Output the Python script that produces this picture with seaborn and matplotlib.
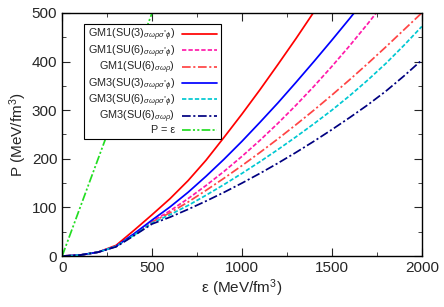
import matplotlib
matplotlib.use("Agg")
import matplotlib.pyplot as plt
import seaborn as sns
import pandas as pd
from matplotlib.ticker import MultipleLocator

sns.set_style("ticks")
plt.rcParams['font.family'] = ['Liberation Sans', 'DejaVu Sans']
plt.rcParams['mathtext.fontset'] = 'custom'
plt.rcParams['mathtext.rm'] = 'Liberation Sans'
plt.rcParams['mathtext.it'] = 'Liberation Sans:italic'

labels = [
    r"GM1(SU(3)$_{\sigma\omega\rho\sigma^{*}\phi}$)",
    r"GM1(SU(6)$_{\sigma\omega\rho\sigma^{*}\phi}$)",
    r"GM1(SU(6)$_{\sigma\omega\rho}$)",
    r"GM3(SU(3)$_{\sigma\omega\rho\sigma^{*}\phi}$)",
    r"GM3(SU(6)$_{\sigma\omega\rho\sigma^{*}\phi}$)",
    r"GM3(SU(6)$_{\sigma\omega\rho}$)",
    "P = ε",
]

eps_gm1_su3 = [0, 100, 200, 300, 400, 500, 600, 700, 800, 900, 1000, 1100, 1200, 1300, 1400]
p_gm1_su3 = [0, 2, 8, 22, 53, 85, 118, 155, 197, 244, 292, 342, 394, 447, 502]

eps_gm1_su6 = [0, 100, 200, 300, 400, 500, 600, 700, 800, 900, 1000, 1100, 1200, 1300, 1400, 1500, 1600, 1700, 1800]
p_gm1_su6 = [0, 2, 8, 20, 45, 71, 93, 118, 145, 174, 205, 238, 273, 310, 349, 390, 433, 478, 525]

eps_gm1_su6b = [0, 100, 200, 300, 400, 500, 600, 700, 800, 900, 1000, 1100, 1200, 1300, 1400, 1500, 1600, 1700, 1800, 1900, 2000]
p_gm1_su6b = [0, 2, 8, 20, 44, 70, 89, 111, 135, 160, 186, 213, 241, 270, 300, 331, 363, 396, 430, 465, 500]

eps_gm3_su3 = [0, 100, 200, 300, 400, 500, 600, 700, 800, 900, 1000, 1100, 1200, 1300, 1400, 1500, 1600, 1700]
p_gm3_su3 = [0, 2, 8, 20, 46, 74, 101, 131, 164, 199, 236, 275, 315, 357, 400, 444, 489, 535]

eps_gm3_su6 = [0, 100, 200, 300, 400, 500, 600, 700, 800, 900, 1000, 1100, 1200, 1300, 1400, 1500, 1600, 1700, 1800, 1900, 2000]
p_gm3_su6 = [0, 2, 8, 20, 43, 68, 85, 104, 125, 147, 170, 194, 219, 245, 272, 300, 330, 362, 396, 433, 472]

eps_gm3_su6b = [0, 100, 200, 300, 400, 500, 600, 700, 800, 900, 1000, 1100, 1200, 1300, 1400, 1500, 1600, 1700, 1800, 1900, 2000]
p_gm3_su6b = [0, 2, 8, 19, 42, 66, 80, 96, 113, 131, 150, 170, 191, 213, 236, 260, 285, 311, 339, 370, 403]

eps_causal = [0, 500]
p_causal = [0, 500]

series = [
    (eps_gm1_su3, p_gm1_su3, "#ff0000", "-"),
    (eps_gm1_su6, p_gm1_su6, "#ff1aaa", (0, (2.5, 1.2))),
    (eps_gm1_su6b, p_gm1_su6b, "#ff4444", (0, (5, 1.5, 1.2, 1.5))),
    (eps_gm3_su3, p_gm3_su3, "#0000ff", "-"),
    (eps_gm3_su6, p_gm3_su6, "#00c8d2", (0, (2.5, 1.2))),
    (eps_gm3_su6b, p_gm3_su6b, "#000080", (0, (5, 1.5, 1.2, 1.5))),
    (eps_causal, p_causal, "#22dd22", (0, (5, 1.3, 1.2, 1.3, 1.2, 1.3))),
]

fig = plt.figure(figsize=(4.44, 3.07), dpi=100)
ax = fig.add_axes([0.140, 0.166, 0.810, 0.792])

for (x, y, c, ls), lab in zip(series, labels):
    df = pd.DataFrame({"eps": x, "P": y})
    sns.lineplot(data=df, x="eps", y="P", ax=ax, color=c, linestyle=ls,
                 linewidth=1.25, label=lab, sort=False)

ax.set_xlim(0, 2000)
ax.set_ylim(0, 500)
ax.xaxis.set_major_locator(MultipleLocator(500))
ax.xaxis.set_minor_locator(MultipleLocator(250))
ax.yaxis.set_major_locator(MultipleLocator(100))
ax.yaxis.set_minor_locator(MultipleLocator(50))
ax.tick_params(which='both', direction='in', top=True, right=True, labelsize=11)
ax.tick_params(which='major', length=6)
ax.tick_params(which='minor', length=3)
for s in ax.spines.values():
    s.set_linewidth(1.0)
    s.set_color('black')

ax.set_xlabel("ε (MeV/fm$^3$)", fontsize=11, labelpad=2)
ax.set_ylabel("P (MeV/fm$^3$)", fontsize=11, labelpad=2)

leg = ax.legend(loc='upper left', bbox_to_anchor=(0.062, 0.955), fontsize=7.8,
                markerfirst=False, frameon=True, fancybox=False, framealpha=1,
                edgecolor='black', handlelength=3.3, labelspacing=0.0,
                borderpad=0.3, handletextpad=0.6, borderaxespad=0)
leg.get_frame().set_linewidth(0.8)
for col in leg._legend_handle_box.get_children():
    col.align = "right"

fig.savefig("out.png", dpi=100)
